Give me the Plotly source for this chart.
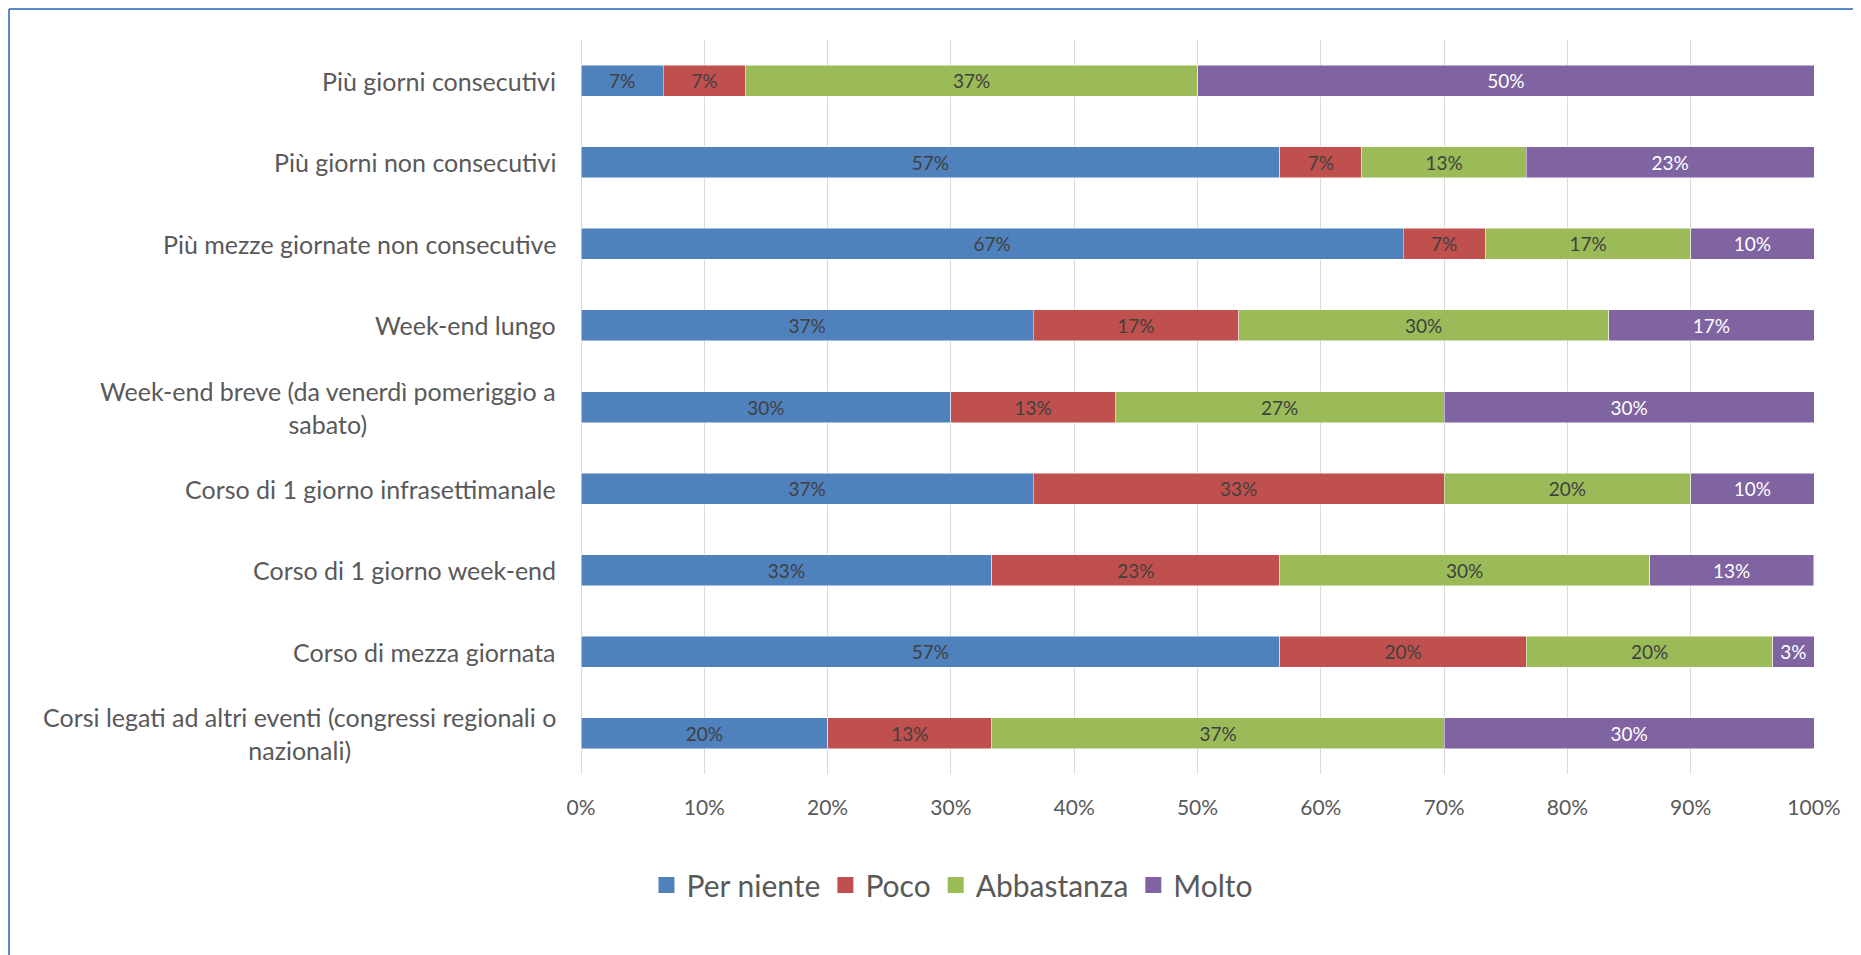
import plotly.graph_objects as go

categories = [
    "Più giorni consecutivi",
    "Più giorni non consecutivi",
    "Più mezze giornate non consecutive",
    "Week-end lungo",
    "Week-end breve (da venerdì pomeriggio a<br>sabato)",
    "Corso di 1 giorno infrasettimanale",
    "Corso di 1 giorno week-end",
    "Corso di mezza giornata",
    "Corsi legati ad altri eventi (congressi regionali o<br>nazionali)",
]

per_niente = [6.67, 56.67, 66.67, 36.67, 30.00, 36.67, 33.33, 56.67, 20.00]
poco       = [6.67, 6.67, 6.67, 16.67, 13.33, 33.33, 23.33, 20.00, 13.33]
abbastanza = [36.67, 13.33, 16.67, 30.00, 26.67, 20.00, 30.00, 20.00, 36.67]
molto      = [50.00, 23.33, 10.00, 16.67, 30.00, 10.00, 13.33, 3.33, 30.00]

series_names = ["Per niente", "Poco", "Abbastanza", "Molto"]
series_values = [per_niente, poco, abbastanza, molto]
series_colors = ["#4F81BD", "#C0504D", "#9BBB59", "#8064A2"]
text_colors = ["#404040", "#404040", "#404040", "#FFFFFF"]

x_ticks = [0, 10, 20, 30, 40, 50, 60, 70, 80, 90, 100]
x_tick_labels = ["0%", "10%", "20%", "30%", "40%", "50%", "60%", "70%", "80%", "90%", "100%"]

FONT = "Lato"
W, H = 1861, 955
# the page body adds an 8px offset; positions below are in figure pixels
L, R, T, B = 573, 55, 32, 189
pw = W - L - R
ph = H - T - B

fig = go.Figure()
for name, vals, col, tcol in zip(series_names, series_values, series_colors, text_colors):
    fig.add_trace(go.Bar(
        y=categories, x=vals, name=name, orientation="h",
        marker=dict(color=col, line=dict(color="rgba(255,255,255,0.6)", width=0.8)),
        texttemplate="%{x:.0f}%", textposition="inside", insidetextanchor="middle",
        textangle=0, constraintext="none",
        textfont=dict(family=FONT, size=19, color=tcol),
        hoverinfo="skip", showlegend=False,
    ))
# legend entries with square markers
for name, col in zip(series_names, series_colors):
    fig.add_trace(go.Scatter(
        x=[None], y=[None], mode="markers", name=name,
        marker=dict(symbol="square", size=18, color=col),
        showlegend=True, hoverinfo="skip",
    ))

# category labels as annotations (center-aligned lines, right-anchored block)
for c in categories:
    fig.add_annotation(
        x=(550 - L) / pw, xref="paper", y=c, yref="y",
        text=c, showarrow=False, xanchor="right", yanchor="middle", align="center",
        font=dict(family=FONT, size=25, color="#595959"),
    )

# chart border (left and top visible)
fig.add_shape(type="line", xref="paper", yref="paper",
              x0=(1 - L) / pw, x1=(W + 10 - L) / pw,
              y0=(H - B - 1) / ph, y1=(H - B - 1) / ph,
              line=dict(color="#5A8AC6", width=2))
fig.add_shape(type="line", xref="paper", yref="paper",
              x0=(1 - L) / pw, x1=(1 - L) / pw,
              y0=(H - B - 1) / ph, y1=(H - B - H - 10) / ph,
              line=dict(color="#5A8AC6", width=2))

fig.update_layout(
    width=W, height=H,
    margin=dict(l=L, r=R, t=T, b=B),
    barmode="stack", bargap=0.62,
    plot_bgcolor="white", paper_bgcolor="white",
    font=dict(family=FONT, color="#595959"),
    showlegend=True,
    legend=dict(
        orientation="h", x=(944 - L) / pw, xanchor="center",
        y=(H - B - 877) / ph, yanchor="middle",
        font=dict(family=FONT, size=30, color="#595959"),
        traceorder="normal", itemwidth=30,
    ),
    xaxis=dict(
        range=[0, 100], tickmode="array", tickvals=x_ticks, ticktext=x_tick_labels,
        showgrid=True, gridcolor="#D9D9D9", gridwidth=1.3,
        zeroline=True, zerolinecolor="#D9D9D9", zerolinewidth=1.3,
        showline=False, ticks="", ticklabelstandoff=19,
        tickfont=dict(family=FONT, size=21, color="#595959"),
        fixedrange=True,
    ),
    yaxis=dict(
        categoryorder="array", categoryarray=categories[::-1],
        showticklabels=False, showgrid=False, zeroline=False, ticks="",
        fixedrange=True,
    ),
)

fig.write_html("out.html")
